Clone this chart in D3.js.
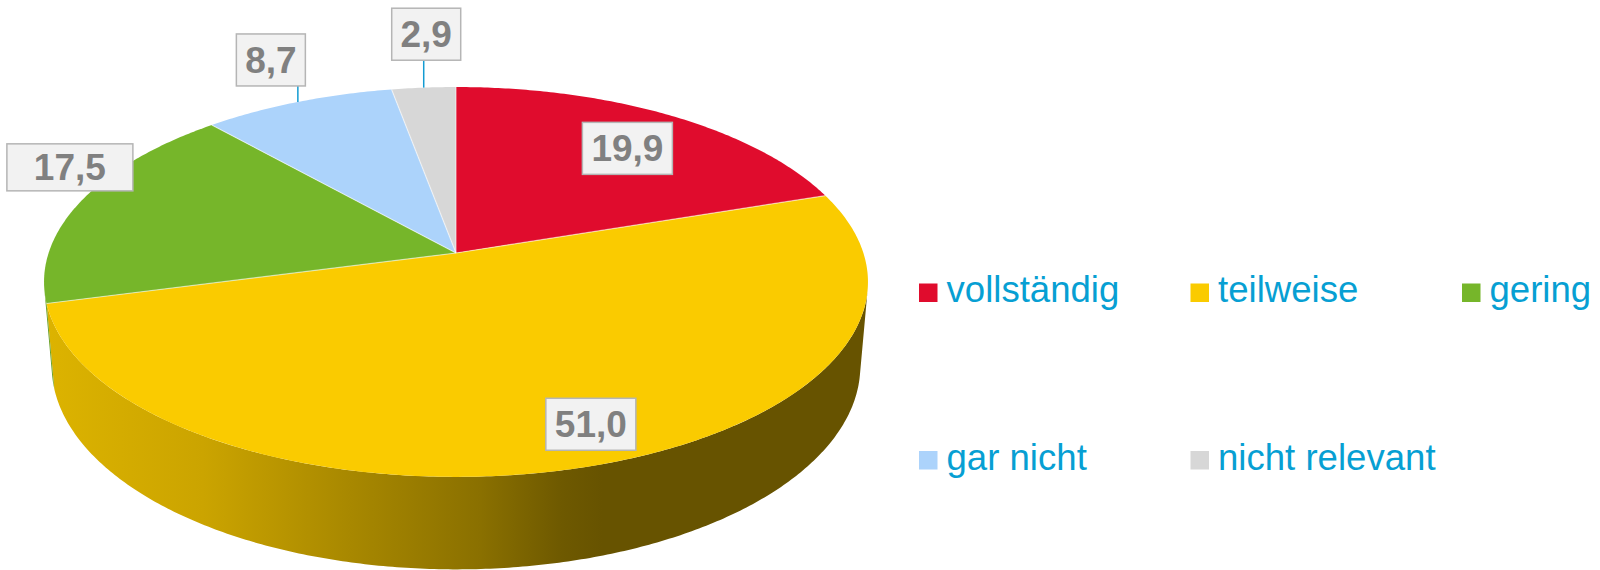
<!DOCTYPE html>
<html>
<head>
<meta charset="utf-8">
<script src="https://cdn.jsdelivr.net/npm/d3@7"></script>
<style>
  body { margin: 0; background: #fff; }
  svg { display: block; font-family: "Liberation Sans", Arial, sans-serif; }
</style>
</head>
<body>
<svg id="chart" width="1600" height="570"></svg>
<script>
// data
const categories = ['vollständig', 'teilweise', 'gering', 'gar nicht', 'nicht relevant'];
const values = [19.9, 51.0, 17.5, 8.7, 2.9];
const colors = ['#e00c2d', '#facb00', '#76b62a', '#acd3fb', '#d7d7d7'];

// 3d pie camera (fitted to the picture)
const cx = 456, cy = 253;
const tilt = 27.9 * Math.PI / 180;
const S = Math.sin(tilt), C = Math.cos(tilt);
const D = 5.95, F = 2424, H = 0.235;

// projects angle (clockwise from 12 o'clock), radius, height onto the screen
function proj(a, r, z) {
  const x = r * Math.sin(a), y = r * Math.cos(a);
  const yc = y * S + z * C;
  const zc = y * C - z * S + D;
  return [cx + F * x / zc, cy - F * yc / zc];
}

function arcPts(a0, a1, z) {
  const n = Math.max(2, Math.ceil(Math.abs(a1 - a0) / 0.01));
  return d3.range(n + 1).map(i => proj(a0 + (a1 - a0) * i / n, 1, z));
}

const svg = d3.select('#chart');
const line = d3.line();
const fmt = d3.formatLocale({ decimal: ',', thousands: '.', grouping: [3], currency: ['', '€'] }).format('.1f');

const pie = d3.pie().sort(null).startAngle(0).endAngle(2 * Math.PI);
const arcs = pie(values);

// side shading (darker towards the right)
const shadeStops = [[0, 0.88], [0.19, 0.81], [0.37, 0.67], [0.53, 0.55], [0.63, 0.44], [0.68, 0.41], [1, 0.41]];
const left = proj(-Math.PI / 2, 1, 0)[0], right = proj(Math.PI / 2, 1, 0)[0];
const defs = svg.append('defs');
arcs.forEach((d, i) => {
  const g = defs.append('linearGradient')
    .attr('id', 'side' + i)
    .attr('gradientUnits', 'userSpaceOnUse')
    .attr('x1', left).attr('x2', right).attr('y1', 0).attr('y2', 0);
  const base = d3.rgb(colors[i]);
  shadeStops.forEach(([t, k]) => {
    g.append('stop')
      .attr('offset', t)
      .attr('stop-color', d3.rgb(base.r * k, base.g * k, base.b * k).formatHex());
  });
});

// visible part of the cylinder wall
const vis0 = Math.acos(-1 / (D * C)), vis1 = 2 * Math.PI - vis0;

svg.append('g')
  .selectAll('path')
  .data(arcs.filter(d => Math.min(d.endAngle, vis1) > Math.max(d.startAngle, vis0)))
  .join('path')
    .attr('d', d => {
      const lo = Math.max(d.startAngle, vis0), hi = Math.min(d.endAngle, vis1);
      return line(arcPts(lo, hi, 0).concat(arcPts(hi, lo, -H))) + 'Z';
    })
    .attr('fill', d => 'url(#side' + d.index + ')');

// top faces
svg.append('g')
  .selectAll('path')
  .data(arcs)
  .join('path')
    .attr('d', d => line([proj(0, 0, 0)].concat(arcPts(d.startAngle, d.endAngle, 0))) + 'Z')
    .attr('fill', d => colors[d.index]);

// thin light edges between slices
svg.append('g')
  .selectAll('line')
  .data(arcs)
  .join('line')
    .attr('x1', proj(0, 0, 0)[0]).attr('y1', proj(0, 0, 0)[1])
    .attr('x2', d => proj(d.startAngle, 1, 0)[0])
    .attr('y2', d => proj(d.startAngle, 1, 0)[1])
    .attr('stroke', '#fff')
    .attr('stroke-opacity', 0.55)
    .attr('stroke-width', 1.2);

// data labels
const labelR = [0.737, 0.827, 1, 1, 1];
const labelShift = [[10, 0], [26, 0], [-12, -33], [-27, -42], [2.5, -53.4]];
const labelSize = [[90, 52], [90, 52], [126, 47], [69, 52], [69, 52]];
const leader = [false, false, false, true, true];

svg.append('g')
  .selectAll('g')
  .data(arcs)
  .join('g')
    .each(function (d) {
      const i = d.index;
      const mid = (d.startAngle + d.endAngle) / 2;
      const [ax, ay] = proj(mid, labelR[i], 0);
      const bx = ax + labelShift[i][0], by = ay + labelShift[i][1];
      const [w, h] = labelSize[i];
      const g = d3.select(this);
      if (leader[i]) {
        g.append('line')
          .attr('x1', ax).attr('x2', ax)
          .attr('y1', ay).attr('y2', by + h / 2)
          .attr('stroke', '#139bd2')
          .attr('stroke-width', 1.5);
      }
      g.append('rect')
        .attr('x', bx - w / 2).attr('y', by - h / 2)
        .attr('width', w).attr('height', h)
        .attr('fill', '#f2f2f2')
        .attr('stroke', '#b5b5b5')
        .attr('stroke-width', 1.5);
      g.append('text')
        .attr('x', bx).attr('y', by + 13)
        .attr('text-anchor', 'middle')
        .attr('font-size', 37)
        .attr('font-weight', 'bold')
        .attr('fill', '#808080')
        .text(fmt(d.data));
    });

// legend
const colX = d3.scaleLinear().domain([0, 2]).range([919, 1462]);
const rowY = d3.scaleLinear().domain([0, 1]).range([302, 469.5]);

const legend = svg.append('g')
  .selectAll('g')
  .data(categories)
  .join('g')
    .attr('transform', (d, i) => `translate(${colX(i % 3)},${rowY(Math.floor(i / 3))})`);

legend.append('rect')
  .attr('x', 0).attr('y', -18.5)
  .attr('width', 18.5).attr('height', 18.5)
  .attr('fill', (d, i) => colors[i]);

legend.append('text')
  .attr('x', 27.5).attr('y', 0)
  .attr('font-size', 36.6)
  .attr('fill', '#079fd3')
  .text(d => d);
</script>
</body>
</html>
